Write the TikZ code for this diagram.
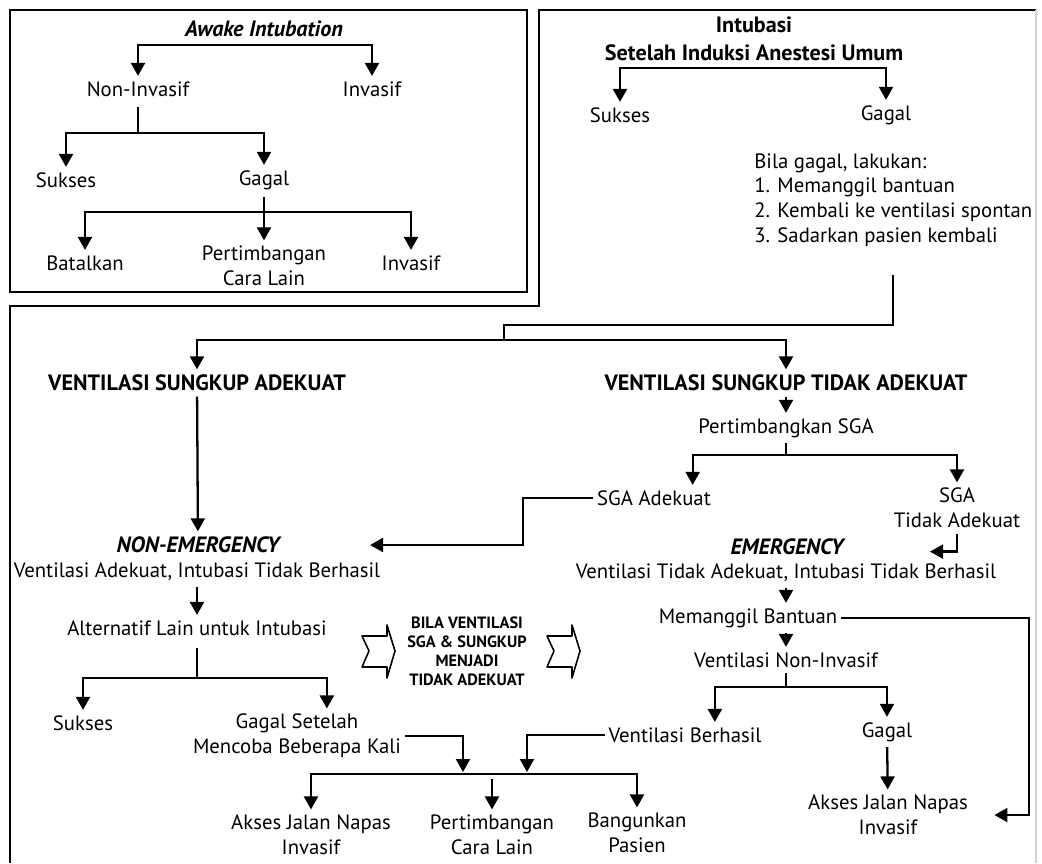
\documentclass[tikz,border=0pt]{standalone}
\usepackage{fontspec}
\setmainfont{PT Sans}
\usetikzlibrary{calc,arrows.meta,positioning}
\newcommand{\fs}{\fontsize{11.8}{14.2}\selectfont}
\newcommand{\fsb}{\fontsize{12.6}{15.8}\selectfont}
\newcommand{\fsm}{\fontsize{9.3}{10.8}\selectfont}
\tikzset{
  ln/.style={line width=1.3pt},
  ar/.style={ln,-{Triangle[length=2.6mm,width=2.8mm]}},
  tx/.style={font=\fs,align=center,inner xsep=2pt,inner ysep=3pt},
  hd/.style={tx,font=\fsb\bfseries},
  hdi/.style={tx,font=\fsb\bfseries\itshape},
  fr/.style={line width=1.3pt},
  blk/.style={line width=0.9pt,line join=round}
}

\begin{document}
\begin{tikzpicture}[x=0.02cm,y=-0.02cm]
\useasboundingbox (0,0) rectangle (1042,863);
% frames
\draw[fr] (10,10) rectangle (527,292);
\draw[fr] (10,863) -- (10,306) -- (539,306) -- (539,10) -- (1036,10);
\draw[gray!35,line width=0.8pt] (1036,10) -- (1036,863);

% awake intubation
\node[hdi] (aw) at (264,29) {Awake Intubation};
\node[tx] (ni) at (138,89) {Non-Invasif};
\node[tx] (inv) at (372,89) {Invasif};
\coordinate (aw0) at (264,45);
\draw[ar] (aw0) -| (ni.north);
\draw[ar] (aw0) -| (inv.north);
\node[tx] (suk) at (66,180) {Sukses};
\node[tx] (gag) at (264,180) {Gagal};
\coordinate (j1) at (138,133);
\draw[ln] ([yshift=-3pt]ni.south) -- (j1);
\draw[ar] (j1) -| (suk.north);
\draw[ar] (j1) -| (gag.north);
\node[tx] (btl) at (85,263) {Batalkan};
\node[tx] (pcl1) at (264,266) {Pertimbangan\\Cara Lain};
\node[tx] (inv2) at (411,263) {Invasif};
\coordinate (j2) at (264,212);
\draw[ln] ([yshift=-1pt]gag.south) -- (j2);
\draw[ar] (j2) -| (btl.north);
\draw[ar] (j2) -- (pcl1.north);
\draw[ar] (j2) -| (inv2.north);

% intubasi setelah induksi
\node[hd] (ib) at (754,39) {Intubasi\\Setelah Induksi Anestesi Umum};
\node[tx] (su2) at (620,115) {Sukses};
\node[tx] (ga2) at (886,115) {Gagal};
\coordinate (ib0) at (754,68);
\draw[ar] (ib0) -| (su2.north);
\draw[ar] (ib0) -| (ga2.north);
\node[tx,align=left,anchor=north west,inner sep=0pt] (bila) at (754,153) {Bila gagal, lakukan:\\1. Memanggil bantuan\\2. Kembali ke ventilasi spontan\\3. Sadarkan pasien kembali};

% ventilasi sungkup
\node[hd] (vsa) at (197,383) {VENTILASI SUNGKUP ADEKUAT};
\node[hd] (vsta) at (786,383) {VENTILASI SUNGKUP TIDAK ADEKUAT};
\coordinate (k1) at (504,325);
\coordinate (k0) at (504,340);
\draw[ln] ([yshift=-16pt]bila.south) |- (k1) -- (k0);
\draw[ar] (k0) -| (vsa.north);
\draw[ar] (k0) -| (vsta.north);

% non-emergency
\node[hdi] (nem) at (198,545) {NON-EMERGENCY};
\node[tx] (nes) at (197,572) {Ventilasi Adekuat, Intubasi Tidak Berhasil};
\draw[ar] (vsa) -- (nem);
\node[tx] (alt) at (197,628) {Alternatif Lain untuk Intubasi};
\draw[ar] (nes) -- (alt);
\node[tx] (suk3) at (83,723) {Sukses};
\node[tx] (gsl) at (297,736) {Gagal Setelah\\Mencoba Beberapa Kali};
\coordinate (j5) at (197,678);
\draw[ln] ([yshift=-4pt]alt.south) -- (j5);
\draw[ar] (j5) -| (suk3.north);
\draw[ar] (j5) -| ([xshift=17pt]gsl.north);

% sga
\node[tx] (psga) at (786,428) {Pertimbangkan SGA};
\draw[ar] (vsta) -- (psga);
\node[tx] (sga) at (654,498) {SGA Adekuat};
\node[tx] (sgt) at (957,508) {SGA\\Tidak Adekuat};
\coordinate (j8) at (786,455);
\draw[ln] (psga.south) -- (j8);
\draw[ar] (j8) -| ([xshift=22pt]sga.north);
\draw[ar] (j8) -| (sgt.north);
\draw[ar] (sga.west) -- ++(-70,0) |- ($(nem.east -| nes.east)+(-14,0)$);

% emergency
\node[hdi] (em) at (787,547) {EMERGENCY};
\node[tx] (ems) at (786,573) {Ventilasi Tidak Adekuat, Intubasi Tidak Berhasil};
\draw[ar] (sgt.south) -- ++(0,18) -- ++(-27,0);
\node[tx] (mb) at (748,618) {Memanggil Bantuan};
\draw[ar] (ems.south) -- (ems.south |- mb.north);
\node[tx] (vni) at (786,660) {Ventilasi Non-Invasif};
\draw[ar] (mb.south -| vni.north) -- (vni.north);
\node[tx] (vbh) at (685,735) {Ventilasi Berhasil};
\node[tx] (gg4) at (887,732) {Gagal};
\coordinate (j7) at (786,687);
\draw[ln] (vni.south) -- (j7);
\draw[ar] (j7) -| ([xshift=17pt]vbh.north);
\draw[ar] (j7) -| (gg4.north);
\node[tx] (aks2) at (888,815) {Akses Jalan Napas\\Invasif};
\draw[ar] (gg4) -- (aks2);
\draw[ar] (mb.east) -- ++(188,0) |- ([xshift=13pt]aks2.east);

% bila ventilasi
\node[font=\fsm\bfseries,align=center,inner sep=1pt] (bv) at (467,651) {BILA VENTILASI\\SGA \& SUNGKUP\\MENJADI\\TIDAK ADEKUAT};
\foreach \bx in {362,547}{
  \draw[blk] (\bx,636) -- (\bx+25,636) -- (\bx+25,625) -- (\bx+33,651) -- (\bx+25,678)
    -- (\bx+25,667) -- (\bx,667) -- (\bx+7,651) -- cycle;
}

% bottom
\node[tx] (aks) at (311,835) {Akses Jalan Napas\\Invasif};
\node[tx] (pcl) at (492,835) {Pertimbangan\\Cara Lain};
\node[tx] (bng) at (637,833) {Bangunkan\\Pasien};
\coordinate (j6) at (492,774);
\coordinate (in1) at (463,772);
\coordinate (in2) at (527,772);
\draw[ar] (gsl.east) -| (in1);
\draw[ar] (vbh.west) -| (in2);
\draw[ar] (j6) -| (aks.north);
\draw[ar] (j6) -| (bng.north);
\draw[ar] ([yshift=-3pt]j6) -- (pcl.north);
\end{tikzpicture}
\end{document}
